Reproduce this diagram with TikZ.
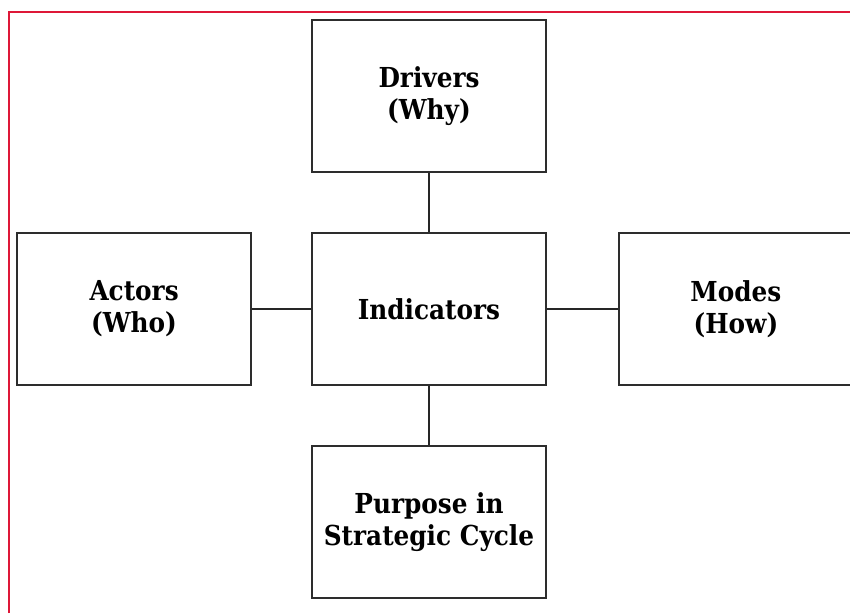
\documentclass[tikz,border=0pt]{standalone}
\usepackage{fontspec}
\setmainfont{DejaVu Serif}[FakeStretch=0.9]
\usepackage{tikz}
\usetikzlibrary{positioning}
\definecolor{frameRed}{RGB}{222,24,56}
\definecolor{boxLine}{RGB}{45,45,45}
\pgfmathsetmacro{\boxW}{234}
\pgfmathsetmacro{\boxH}{152}
\tikzset{
	block/.style= {
		draw=boxLine, line width=1.9pt,
		minimum width=\boxW pt, minimum height=\boxH pt,
		inner sep=0, align=center,
		font=\fontsize{27.5}{32}\selectfont\bfseries
	},
	link/.style= {draw=black!85, line width=2.9pt},
	frame/.style= {draw=frameRed, line width=2.8pt}
}

\begin{document}
\begin{tikzpicture}[x=1pt,y=1pt,node distance=59pt]
\useasboundingbox (0,0) rectangle (850,613);
% outer frame, left and top only
\draw[frame] (9,0) -- (9,601) -- (851,601);

% centre and the four around it
\node[block] (indicators) at (429,304) {Indicators};
\node[block, above=of indicators] (drivers) {Drivers\\(Why)};
\node[block, left=of indicators] (actors) {Actors\\(Who)};
\node[block, right=71pt of indicators] (modes) {Modes\\(How)};
\node[block, below=of indicators] (purpose) {Purpose in\\Strategic Cycle};

% connectors
\foreach \other in {drivers,actors,modes,purpose}{%
	\draw[link] (indicators) -- (\other);
}
\end{tikzpicture}
\end{document}
